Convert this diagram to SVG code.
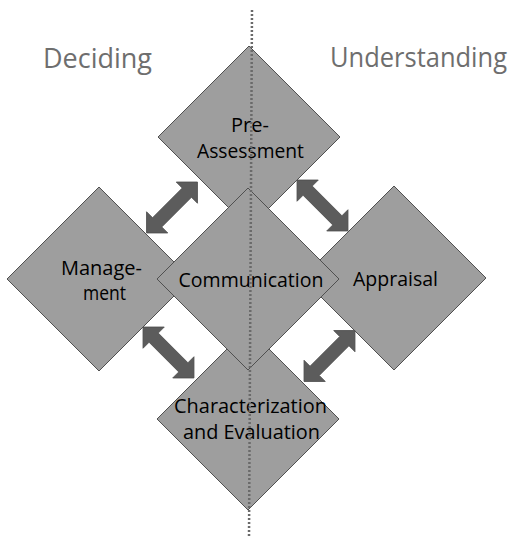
<svg xmlns="http://www.w3.org/2000/svg" xmlns:xlink="http://www.w3.org/1999/xlink" width="518" height="541" viewBox="0 0 518 541">
<style>
.dia{fill:#9e9e9e;stroke:#505050;stroke-width:1}
.lbl{font-family:"Open Sans","Liberation Sans",sans-serif;font-size:20px;fill:#000;text-anchor:middle}
.side{font-family:"Open Sans","Liberation Sans",sans-serif;font-size:27px;fill:#6e6e6e}
.arr{fill:#5c5c5c;stroke:#4f4f4f;stroke-width:0.8}
</style>
<defs>
<polygon id="dbl" points="-36,0 -21,-15 -21,-6.5 21,-6.5 21,-15 36,0 21,15 21,6.5 -21,6.5 -21,15"/>
</defs>
<rect width="518" height="541" fill="#fff"/>
<text class="side" x="43" y="68" textLength="109" lengthAdjust="spacingAndGlyphs">Deciding</text>
<text class="side" x="330" y="67" textLength="177" lengthAdjust="spacingAndGlyphs">Understanding</text>
<g id="pre-assessment">
<polygon class="dia" points="249,46 340,137 249,228 158,137"/>
<text class="lbl" x="250" y="132">Pre-</text>
<text class="lbl" x="250.5" y="158" textLength="107" lengthAdjust="spacingAndGlyphs">Assessment</text>
</g>
<g id="management">
<polygon class="dia" points="99,187 191,279 99,371 7,279"/>
<text class="lbl" x="101.5" y="275" textLength="81" lengthAdjust="spacingAndGlyphs">Manage-</text>
<text class="lbl" x="104.5" y="300" textLength="43" lengthAdjust="spacingAndGlyphs">ment</text>
</g>
<g id="appraisal">
<polygon class="dia" points="394,186 486,278 394,370 302,278"/>
<text class="lbl" x="395.5" y="286" textLength="85" lengthAdjust="spacingAndGlyphs">Appraisal</text>
</g>
<g id="characterization">
<polygon class="dia" points="248,328 339,419 248,510 157,419"/>
<text class="lbl" x="250.5" y="413" textLength="153" lengthAdjust="spacingAndGlyphs">Characterization</text>
<text class="lbl" x="251.5" y="439" textLength="137" lengthAdjust="spacingAndGlyphs">and Evaluation</text>
</g>
<g id="communication">
<polygon class="dia" points="248,188 339,279 248,370 157,279"/>
<text class="lbl" x="251" y="287" textLength="145" lengthAdjust="spacingAndGlyphs">Communication</text>
</g>
<g id="connectors">
<line x1="252" y1="10" x2="249" y2="538" stroke="#6a6a6a" stroke-width="2.5" stroke-dasharray="2,2"/>
<use xlink:href="#dbl" class="arr" transform="translate(172,207.5) rotate(-45)"/>
<use xlink:href="#dbl" class="arr" transform="translate(322.5,205.5) rotate(45)"/>
<use xlink:href="#dbl" class="arr" transform="translate(168.5,352.5) rotate(45)"/>
<use xlink:href="#dbl" class="arr" transform="translate(329.5,356) rotate(-45)"/>
</g>
</svg>
